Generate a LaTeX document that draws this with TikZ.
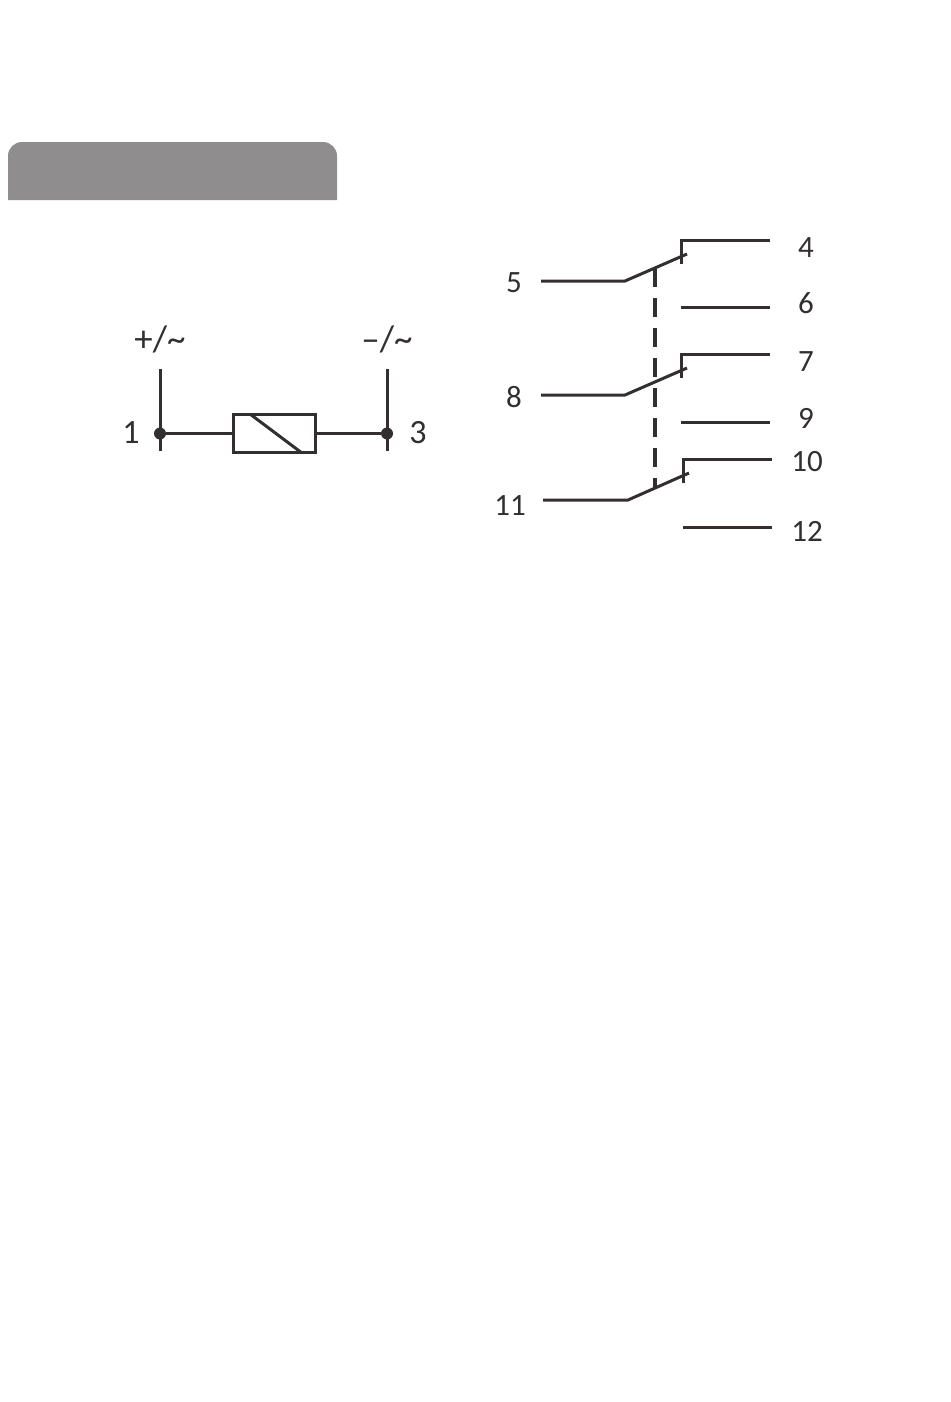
\documentclass[tikz,border=0pt]{standalone}
\usepackage{fontspec}
\setmainfont{Carlito}
\definecolor{ink}{HTML}{332F30}
\definecolor{tabgray}{HTML}{8F8D8E}
\tikzset{
	wire/.style = {
		line width=3pt,
		ink
	},
	link/.style = {
		line width=4pt,
		ink,
		dash pattern=on 19pt off 11pt
	},
	coil/.style = {
		draw=ink,
		line width=3pt,
		rectangle,
		minimum width=82pt,
		minimum height=37.5pt,
		inner sep=0pt
	},
	joint/.style = {
		circle,
		fill=ink,
		minimum size=12pt,
		inner sep=0pt
	},
	tag/.style = {
		text=ink,
		font=\fontsize{31}{33}\selectfont,
		inner sep=0pt
	},
	polarity/.style = {
		tag,
		font=\fontsize{37}{39}\selectfont
	},
	pin/.style = {
		tag,
		font=\fontsize{34}{36}\selectfont
	}
}

\begin{document}
\begin{tikzpicture}[x=1pt,y=-1pt]
\useasboundingbox (0,0) rectangle (950,1402);
\fill[tabgray] (8,200) [rounded corners=14pt] -- (8,142) -- (337,142) [sharp corners] -- (337,200) -- cycle;

% coil side
\node[coil] (coil) at (274,433.5) {};
\node[joint] (dotA) at (160,433.5) {};
\node[joint] (dotB) at (387,433.5) {};
\coordinate (railAtop) at (160,369);
\coordinate (railAbot) at (160,451);
\coordinate (railBtop) at (387,369);
\coordinate (railBbot) at (387,451);
\draw[wire] (railAtop) -- (railAbot);
\draw[wire] (railBtop) -- (railBbot);
\draw[wire] (dotA) -- (coil);
\draw[wire] (coil) -- (dotB);
\draw[wire] (250,414) -- (302,453);
\node[polarity] (plus) at (160,339) {+/\symbol{126}};
\node[polarity] (minus) at (387,339) {–/\symbol{126}};
\node[pin] (t1) at (131,433) {1};
\node[pin] (t3) at (418,433) {3};

% contacts
\foreach \name/\xa/\xb/\xc/\xd/\xe/\xf/\ya/\yb/\yc/\yd in {
	a/541/625/687/681.5/770/681/281/254/240/307,
	b/541/625/687/681.5/770/681/395/368/354/422,
	c/543/628/689/683.5/772/683/500/473/459/527}{
	\coordinate (\name in) at (\xa,\ya);
	\coordinate (\name knee) at (\xb,\ya);
	\coordinate (\name tip) at (\xc,\yb);
	\coordinate (\name foot) at (\xd,\yb+10);
	\coordinate (\name corner) at (\xd,\yc);
	\coordinate (\name no) at (\xe,\yc);
	\coordinate (\name ncl) at (\xf,\yd);
	\coordinate (\name ncr) at (\xe,\yd);
	\draw[wire] (\name in) -- (\name knee) -- (\name tip);
	\draw[wire] (\name foot) -- (\name corner) -- (\name no);
	\draw[wire] (\name ncl) -- (\name ncr);
}
\coordinate (linktop) at (655,268);
\coordinate (linkbot) at (655,489);
\draw[link] (linktop) -- (linkbot);

\node[tag] (t4) at (806,248) {4};
\node[tag] (t6) at (806,303) {6};
\node[tag] (t7) at (806,362) {7};
\node[tag] (t9) at (806,418) {9};
\node[tag] (t10) at (807,462) {10};
\node[tag] (t12) at (807,531) {12};
\node[tag] (t5) at (514,283) {5};
\node[tag] (t8) at (514,397) {8};
\node[tag] (t11) at (510,506) {11};
\end{tikzpicture}
\end{document}
